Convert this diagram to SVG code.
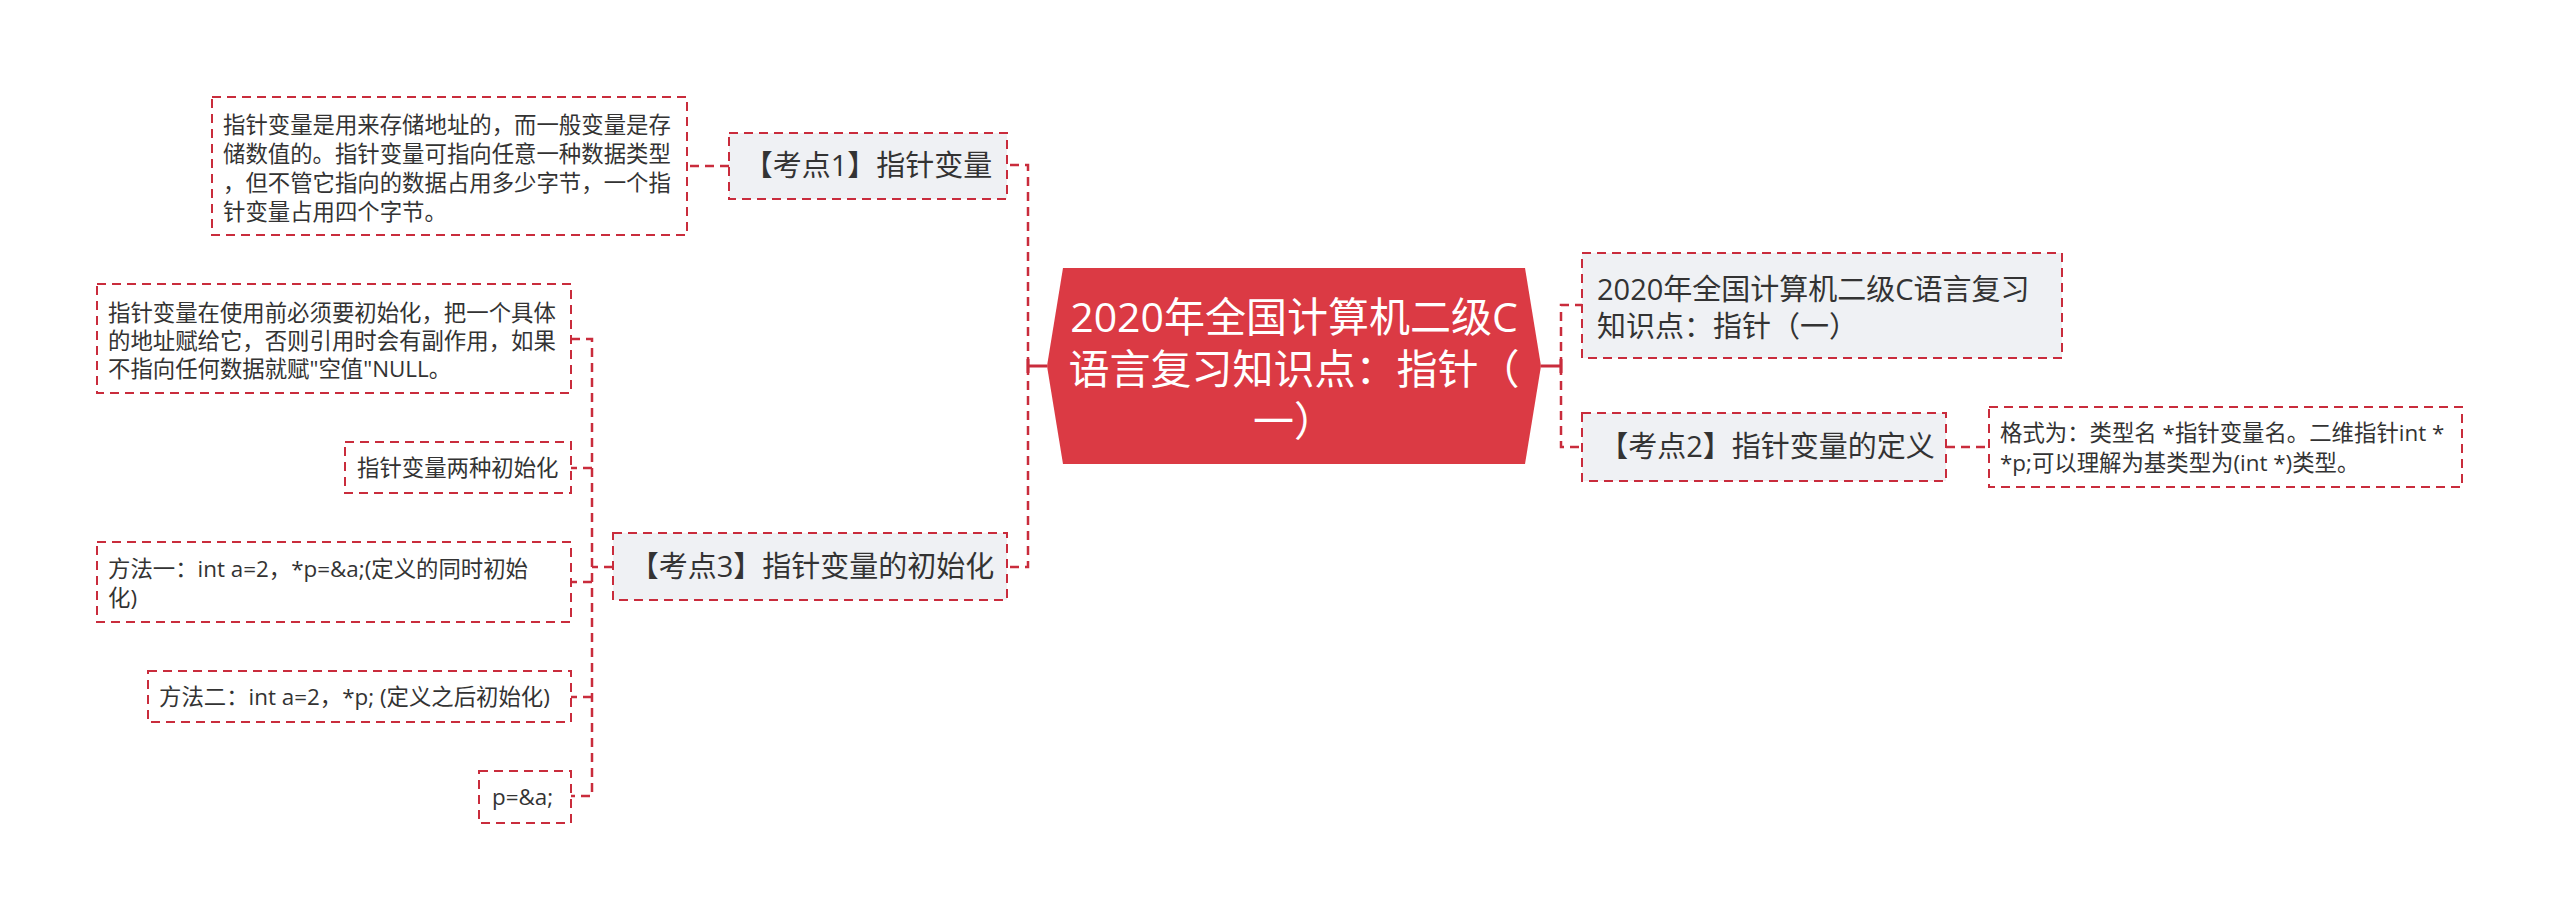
<svg xmlns="http://www.w3.org/2000/svg" width="2560" height="919" viewBox="0 0 2560 919">
<style>
.bg{fill:#ffffff}
.box{stroke:#c92c3c;stroke-width:2;stroke-dasharray:9 6}
.gray{fill:#eff1f4}
.white{fill:#ffffff}
.con{fill:none;stroke:#c92c3c;stroke-width:2.5;stroke-dasharray:9 6}
.solid{fill:none;stroke:#c92c3c;stroke-width:3}
text{font-family:"Open Sans","Noto Sans CJK SC",sans-serif;fill:#333333}
.center{font-size:41px;fill:#ffffff;text-anchor:middle}
.main{font-size:29px}
.note{font-size:22.4px}
.mid{text-anchor:middle}
</style>
<rect class="bg" x="0" y="0" width="2560" height="919"/>
<g id="connectors">
<path class="solid" d="M1047,366 H1028 M1028,359 V373"/>
<path class="con" d="M1028,366 V165 H1007"/>
<path class="con" d="M1028,366 V567 H1007"/>
<path class="solid" d="M1541,366 H1561 M1561,359 V373"/>
<path class="con" d="M1561,366 V305 H1582"/>
<path class="con" d="M1561,366 V447 H1582"/>
<path class="con" d="M729,166 H687"/>
<path class="con" d="M1946,447 H1989"/>
<path class="con" d="M613,567 H592"/>
<path class="con" d="M571,339 H592 V796 H571"/>
<path class="con" d="M592,468 H571"/>
<path class="con" d="M592,582 H571"/>
<path class="con" d="M592,697 H571"/>
</g>
<g id="center">
<polygon points="1063,268 1525,268 1541,366 1525,464 1063,464 1047,366" fill="#db3a44"/>
<text class="center" x="1294" y="332">2020年全国计算机二级C</text>
<text class="center" x="1294" y="384">语言复习知识点：指针（</text>
<text class="center" x="1294" y="436">一）</text>
</g>
<g id="k1">
<rect class="box gray" x="729" y="133" width="278" height="66"/>
<text class="main mid" x="868" y="176">【考点1】指针变量</text>
</g>
<g id="k1-note">
<rect class="box white" x="212" y="97" width="475" height="138"/>
<text class="note" x="223" y="133">指针变量是用来存储地址的，而一般变量是存</text>
<text class="note" x="223" y="162">储数值的。指针变量可指向任意一种数据类型</text>
<text class="note" x="223" y="191">，但不管它指向的数据占用多少字节，一个指</text>
<text class="note" x="223" y="220">针变量占用四个字节。</text>
</g>
<g id="k3">
<rect class="box gray" x="613" y="533" width="394" height="67"/>
<text class="main mid" x="812" y="577">【考点3】指针变量的初始化</text>
</g>
<g id="k3-note1">
<rect class="box white" x="97" y="284" width="474" height="109"/>
<text class="note" x="108" y="321">指针变量在使用前必须要初始化，把一个具体</text>
<text class="note" x="108" y="349">的地址赋给它，否则引用时会有副作用，如果</text>
<text class="note" x="108" y="377">不指向任何数据就赋"空值"NULL。</text>
</g>
<g id="k3-note2">
<rect class="box white" x="345" y="442" width="226" height="51"/>
<text class="note" x="357" y="476">指针变量两种初始化</text>
</g>
<g id="k3-method1">
<rect class="box white" x="97" y="542" width="474" height="80"/>
<text class="note" x="108" y="577">方法一：int a=2，*p=&amp;a;(定义的同时初始</text>
<text class="note" x="108" y="606">化)</text>
</g>
<g id="k3-method2">
<rect class="box white" x="148" y="671" width="423" height="51"/>
<text class="note" x="159" y="705">方法二：int a=2，*p; (定义之后初始化)</text>
</g>
<g id="k3-assign">
<rect class="box white" x="479" y="771" width="92" height="52"/>
<text class="note" x="492" y="805">p=&amp;a;</text>
</g>
<g id="r1">
<rect class="box gray" x="1582" y="253" width="480" height="105"/>
<text class="main" x="1597" y="300">2020年全国计算机二级C语言复习</text>
<text class="main" x="1597" y="337">知识点：指针（一）</text>
</g>
<g id="k2">
<rect class="box gray" x="1582" y="413" width="364" height="68"/>
<text class="main mid" x="1767" y="457">【考点2】指针变量的定义</text>
</g>
<g id="k2-note">
<rect class="box white" x="1989" y="407" width="473" height="80"/>
<text class="note" x="2000" y="441">格式为：类型名 *指针变量名。二维指针int *</text>
<text class="note" x="2000" y="471">*p;可以理解为基类型为(int *)类型。</text>
</g>
</svg>
